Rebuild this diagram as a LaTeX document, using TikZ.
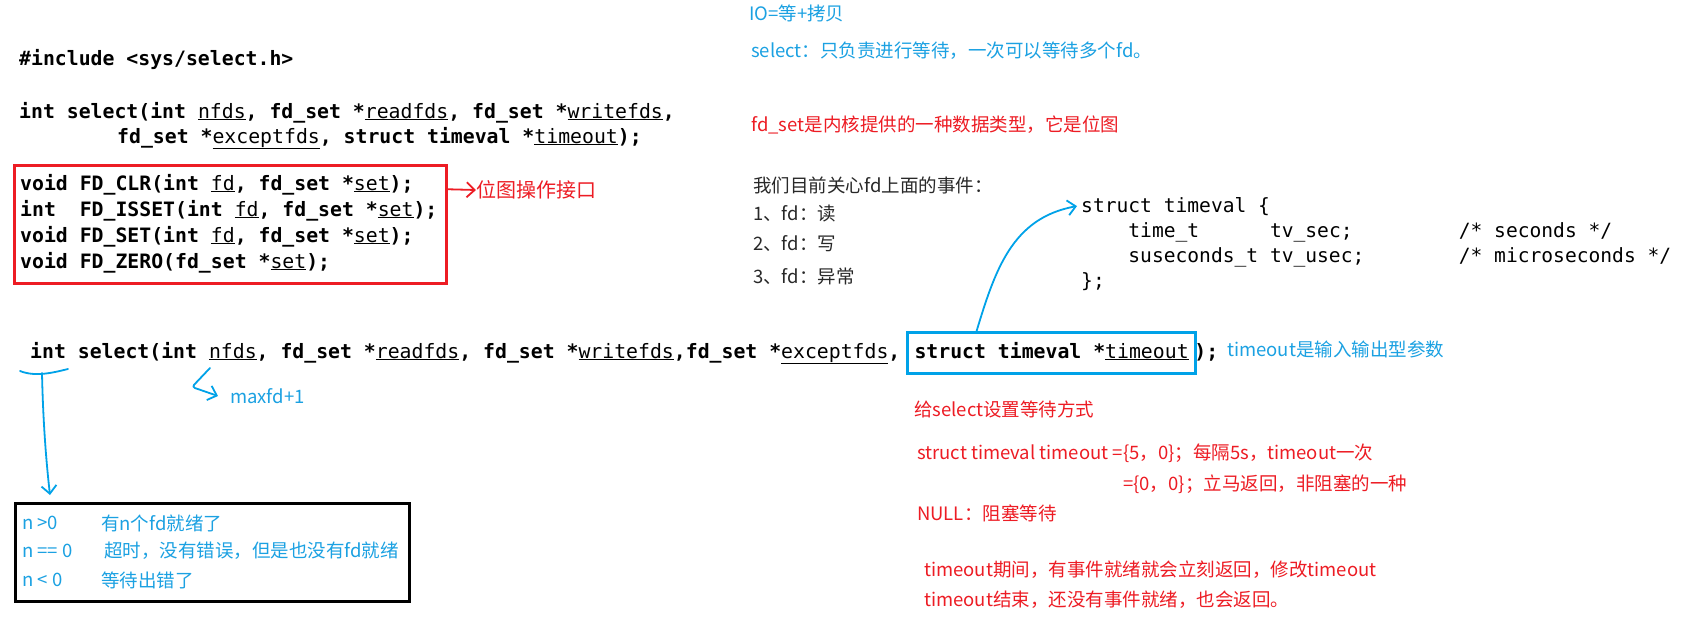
\documentclass[tikz,border=0pt]{standalone}
\usepackage{fontspec}
\setmonofont{DejaVu Sans Mono}
\newfontfamily\cjk{Noto Sans CJK SC}
\usetikzlibrary{arrows.meta}
\definecolor{pblue}{RGB}{0,162,232}
\definecolor{tblue}{RGB}{27,161,226}
\definecolor{pred}{RGB}{237,28,36}
\definecolor{tblack}{RGB}{40,40,40}
\newcommand\ulk[1]{\underline{\mdseries #1}}
\begin{document}
\begin{tikzpicture}[x=1pt,y=-1pt,
  code/.style={anchor=base west, inner sep=0pt, text=black, font=\ttfamily\bfseries\fontsize{19.8}{24}\selectfont},
  scode/.style={anchor=base west, inner sep=0pt, text=black, font=\ttfamily\fontsize{19.6}{24}\selectfont},
  note/.style={anchor=west, inner sep=0pt, font=\cjk\fontsize{18.5}{22}\selectfont},
  bnote/.style={note, text=tblue},
  rnote/.style={note, text=pred},
  knote/.style={note, text=tblack},
  pen/.style={draw=pblue, line width=1.8pt, line cap=round, line join=round},
  barb/.style={-{Straight Barb[length=8pt,width=15pt,line width=1.8pt]}},
]
\useasboundingbox[fill=white] (0,0) rectangle (1690,627);

% ---- man page prototype
\node[code] (inc)  at (19,65)  {\#include <sys/select.h>};
\node[code] (sig1) at (19,118) {int select(int \ulk{nfds}, fd\_set *\ulk{readfds}, fd\_set *\ulk{writefds},};
\node[code] (sig2) at (117,143) {fd\_set *\ulk{exceptfds}, struct timeval *\ulk{timeout});};

% ---- FD macros in red box
\node[draw=pred, line width=2.5pt, minimum width=432pt, minimum height=118pt, anchor=north west, inner sep=0pt] (fdbox) at (13,164) {};
\node[code] (clr)   at (20,190) {void FD\_CLR(int \ulk{fd}, fd\_set *\ulk{set});};
\node[code] (isset) at (20,216) {int~~FD\_ISSET(int \ulk{fd}, fd\_set *\ulk{set});};
\node[code] (fdset) at (20,242) {void FD\_SET(int \ulk{fd}, fd\_set *\ulk{set});};
\node[code] (zero)  at (20,268) {void FD\_ZERO(fd\_set *\ulk{set});};
\node[note, text=pred, font=\cjk\fontsize{20}{24}\selectfont] (bitop) at (476,190) {位图操作接口};
\draw[draw=pred, line width=1.8pt, line cap=round, barb] ([yshift=35pt]fdbox.east) -- (bitop.west);

% ---- select call with timeout box
\node[code] (sel) at (30,358) {int select(int \ulk{nfds}, fd\_set *\ulk{readfds}, fd\_set *\ulk{writefds},fd\_set *\ulk{exceptfds},};
\node[code, draw=pblue, line width=3pt, inner xsep=7pt, inner ysep=10.5pt, text height=15pt, text depth=5pt] (tv) at (906,358) {struct timeval *\ulk{timeout}};
\node[code, xshift=-3pt] (semi) at (tv.base east) {);};
\node[bnote] (tvnote) at (1227,349) {timeout是输入输出型参数};

% ---- struct timeval
\node[scode] (st0) at (1081,212) {struct timeval \{};
\node[scode] (st1) at (1081,237) {~~~~time\_t~~~~~~tv\_sec;~~~~~~~~~/*~seconds~*/};
\node[scode] (st2) at (1081,262) {~~~~suseconds\_t~tv\_usec;~~~~~~~~/*~microseconds~*/};
\node[scode] (st3) at (1081,287) {\};};

% ---- notes top right
\node[bnote] (io)      at (749,13)  {IO=等+拷贝};
\node[bnote] (selnote) at (751,51)  {select：只负责进行等待，一次可以等待多个fd。};
\node[rnote] (fdsetnote) at (751,125) {fd\_set是内核提供的一种数据类型，它是位图};
\node[knote] (care) at (753,185) {我们目前关心fd上面的事件：};
\node[knote] (ev1)  at (753,214) {1、fd：读};
\node[knote] (ev2)  at (753,244) {2、fd：写};
\node[knote] (ev3)  at (753,276) {3、fd：异常};

% ---- timeout notes
\node[rnote] (way) at (914,409) {给select设置等待方式};
\node[rnote] (t1)  at (917,453) {struct timeval timeout =\{5，0\}；每隔5s，timeout一次};
\node[rnote] (t2)  at (1123,484) {=\{0，0\}；立马返回，非阻塞的一种};
\node[rnote] (t3)  at (917,513) {NULL：阻塞等待};
\node[rnote] (t4)  at (924,570) {timeout期间，有事件就绪就会立刻返回，修改timeout};
\node[rnote] (t5)  at (924,600) {timeout结束，还没有事件就绪，也会返回。};

% ---- return values box
\node[draw=black, line width=3pt, minimum width=394pt, minimum height=98pt, anchor=north west, inner sep=0pt] (retbox) at (14,502) {};
\node[bnote] (r1a) at (22,523) {n >0};
\node[bnote] (r1b) at (101,523) {有n个fd就绪了};
\node[bnote] (r2a) at (22,551) {n == 0};
\node[bnote] (r2b) at (104,551) {超时，没有错误，但是也没有fd就绪};
\node[bnote] (r3a) at (22,580) {n < 0};
\node[bnote] (r3b) at (101,580) {等待出错了};

% ---- maxfd label
\node[bnote] (maxfd) at (230,396) {maxfd+1};

% ---- hand-drawn blue strokes
\coordinate (intL) at (20,371);
\coordinate (intR) at (68,369);
\coordinate (intM) at (42,373);
\coordinate (retTip) at (50,495);
\draw[pen] (intL) .. controls (35,377) and (52,373) .. (intR);
\draw[pen, barb] (intM) .. controls (43,420) and (46,460) .. (retTip);

\coordinate (nfdsA) at (210,368);
\coordinate (nfdsB) at (192,387);
\draw[pen, barb, rounded corners=3pt] (nfdsA) -- (nfdsB) -- ([xshift=-12pt]maxfd.west);

\coordinate (tvtop) at (976,333);
\draw[pen, barb] (tvtop) .. controls (995,270) and (1012,218) .. ([xshift=-4pt]st0.west);
\end{tikzpicture}
\end{document}
